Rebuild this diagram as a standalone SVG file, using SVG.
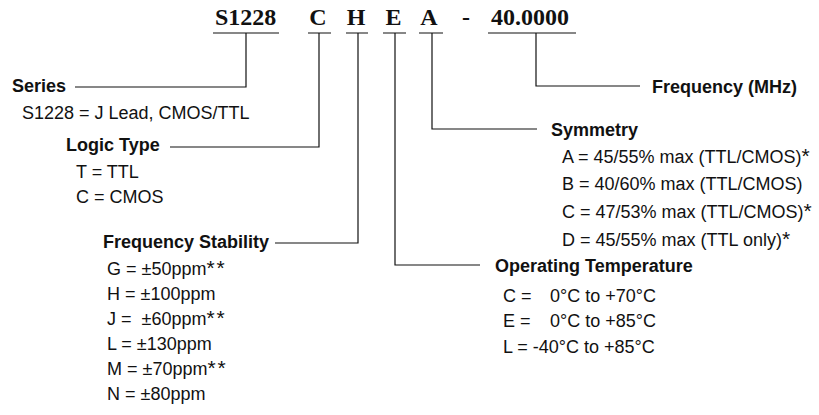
<svg xmlns="http://www.w3.org/2000/svg" width="819" height="415" viewBox="0 0 819 415">
<style>
.hd{font-family:"Liberation Serif","Times New Roman",serif;font-weight:bold;font-size:24px;fill:#111}
.t{font-family:"Liberation Sans",Arial,sans-serif;font-weight:bold;font-size:18px;fill:#111}
.i{font-family:"Liberation Sans",Arial,sans-serif;font-size:18px;fill:#111;white-space:pre}
.ast{font-size:21px;letter-spacing:2px}
.ln{fill:none;stroke:#111;stroke-width:1.2}
</style>
<rect width="819" height="415" fill="#fff"/>
<g id="header">
<text class="hd" x="215" y="25">S1228</text>
<text class="hd" x="318" y="25" text-anchor="middle">C</text>
<text class="hd" x="356" y="25" text-anchor="middle">H</text>
<text class="hd" x="393.5" y="25" text-anchor="middle">E</text>
<text class="hd" x="429" y="25" text-anchor="middle">A</text>
<text class="hd" x="466" y="25" text-anchor="middle">-</text>
<text class="hd" x="491" y="25">40.0000</text>
</g>
<g id="connectors" class="ln">
<path d="M213 33H279M246 33V87H75"/>
<path d="M308 33H331M319 33V147H170"/>
<path d="M346 33H368M358 33V243H275"/>
<path d="M383 33H406M395 33V265H480"/>
<path d="M419 33H443M432 33V129H537"/>
<path d="M488 33H576M536 33V86H640"/>
</g>
<g id="series">
<text class="t" x="12" y="92">Series</text>
<text class="i" x="22" y="119">S1228 = J Lead, CMOS/TTL</text>
</g>
<g id="logic-type">
<text class="t" x="66" y="151">Logic Type</text>
<text class="i" x="76" y="178">T = TTL</text>
<text class="i" x="76" y="203">C = CMOS</text>
</g>
<g id="frequency-stability">
<text class="t" x="103" y="248">Frequency Stability</text>
<text class="i" x="107" y="275">G = ±50ppm<tspan class="ast">**</tspan></text>
<text class="i" x="107" y="300">H = ±100ppm</text>
<text class="i" x="107" y="325">J =  ±60ppm<tspan class="ast">**</tspan></text>
<text class="i" x="107" y="350">L = ±130ppm</text>
<text class="i" x="107" y="375">M = ±70ppm<tspan class="ast">**</tspan></text>
<text class="i" x="107" y="400">N = ±80ppm</text>
</g>
<g id="operating-temperature">
<text class="t" x="495" y="272">Operating Temperature</text>
<text class="i" x="503" y="302">C =</text>
<text class="i" x="656" y="302" text-anchor="end">0°C to +70°C</text>
<text class="i" x="503" y="327">E =</text>
<text class="i" x="656" y="327" text-anchor="end">0°C to +85°C</text>
<text class="i" x="503" y="353">L = -40°C to +85°C</text>
</g>
<g id="symmetry">
<text class="t" x="551" y="136">Symmetry</text>
<text class="i" x="562" y="163">A = 45/55% max (TTL/CMOS)<tspan class="ast">*</tspan></text>
<text class="i" x="562" y="190">B = 40/60% max (TTL/CMOS)</text>
<text class="i" x="562" y="218">C = 47/53% max (TTL/CMOS)<tspan class="ast">*</tspan></text>
<text class="i" x="562" y="246">D = 45/55% max (TTL only)<tspan class="ast">*</tspan></text>
</g>
<g id="frequency">
<text class="t" x="652" y="93">Frequency (MHz)</text>
</g>
</svg>
